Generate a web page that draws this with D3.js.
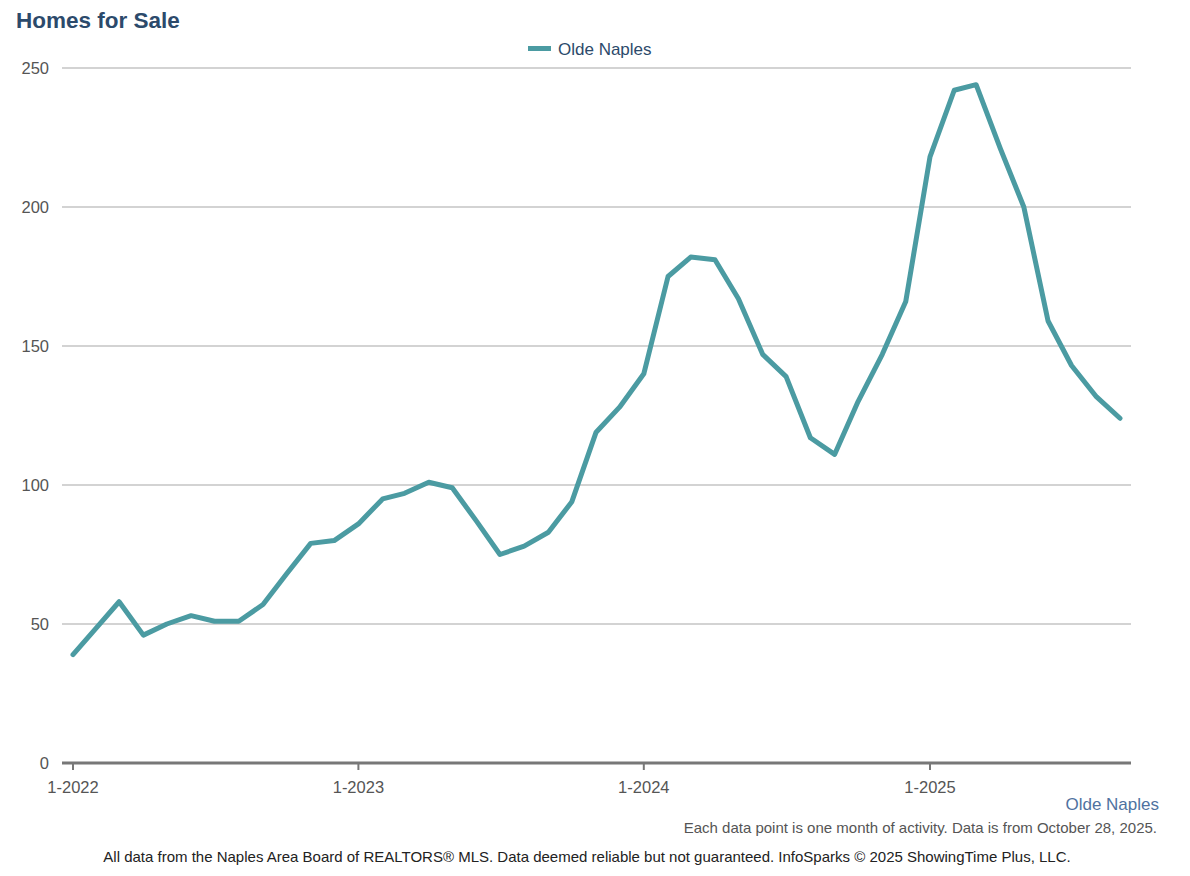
<!DOCTYPE html>
<html lang="en">
<head>
  <meta charset="UTF-8">
  <title>Homes for Sale</title>
  <style type="text/css">
    body {
      margin: 0;
      background: #fff;
      font-family: "Liberation Sans", Arial, Helvetica, sans-serif;
    }
    .grid line { stroke: #c4c4c4; stroke-width: 1.5px; }
    .axis text { fill: #555; font-size: 16.5px; }
  </style>
  <script src="https://cdn.jsdelivr.net/npm/d3@7"></script>
</head>
<body>
  <div class="main"></div>
  <script>
    // monthly values, 1-2022 .. 9-2025
    var startMonth = new Date(2022, 0, 1);
    var values = [39, 49, 58, 46, 50, 53, 51, 51, 57, 68, 79, 80,
                  86, 95, 97, 101, 99, 87, 75, 78, 83, 94, 119, 128,
                  140, 175, 182, 181, 167, 147, 139, 117, 111, 130, 147, 166,
                  218, 242, 244, 221, 200, 159, 143, 132, 124];
    var yTicks = [0, 50, 100, 150, 200, 250];
    var xTicks = ["1-2022", "1-2023", "1-2024", "1-2025"];
    var seriesName = "Olde Naples";

    var data = values.map(function(v, i) {
      return { date: d3.timeMonth.offset(startMonth, i), value: v };
    });

    var W = 1190, H = 876;
    var svg = d3.select(".main").append("svg")
        .attr("width", W)
        .attr("height", H);

    // plot box
    var plot = { left: 62, right: 1131, top: 68, bottom: 763 };

    var xScale = d3.scaleTime()
        .domain([startMonth, data[data.length - 1].date])
        .range([73, 1120]);
    var yScale = d3.scaleLinear().domain([0, 250]).range([plot.bottom, plot.top]);

    // gridlines
    svg.append("g").attr("class", "grid")
      .selectAll("line").data(yTicks.slice(1)).enter().append("line")
        .attr("x1", plot.left).attr("x2", plot.right)
        .attr("y1", function(d) { return yScale(d); })
        .attr("y2", function(d) { return yScale(d); });

    // y labels
    var yAxis = svg.append("g").attr("class", "axis");
    yAxis.selectAll("text").data(yTicks).enter().append("text")
        .attr("x", 49)
        .attr("y", function(d) { return yScale(d); })
        .attr("dy", "0.35em")
        .attr("text-anchor", "end")
        .text(function(d) { return d; });

    // x axis line + ticks
    var xAxis = svg.append("g").attr("class", "axis");
    xAxis.append("line")
        .attr("x1", plot.left).attr("x2", plot.right)
        .attr("y1", plot.bottom).attr("y2", plot.bottom)
        .attr("stroke", "#777").attr("stroke-width", 3);
    var tickDates = xTicks.map(function(t) {
      var p = t.split("-");
      return new Date(+p[1], +p[0] - 1, 1);
    });
    xAxis.selectAll("line.tick").data(tickDates).enter().append("line")
        .attr("class", "tick")
        .attr("x1", function(d) { return xScale(d); })
        .attr("x2", function(d) { return xScale(d); })
        .attr("y1", plot.bottom).attr("y2", plot.bottom + 7)
        .attr("stroke", "#777").attr("stroke-width", 2);
    xAxis.selectAll("text").data(xTicks).enter().append("text")
        .attr("x", function(d, i) { return xScale(tickDates[i]); })
        .attr("y", 793)
        .attr("text-anchor", "middle")
        .text(function(d) { return d; });

    // the line
    var line = d3.line()
        .x(function(d) { return xScale(d.date); })
        .y(function(d) { return yScale(d.value); });
    svg.append("path")
        .datum(data)
        .attr("d", line)
        .attr("fill", "none")
        .attr("stroke", "#4b9ba2")
        .attr("stroke-width", 5)
        .attr("stroke-linejoin", "round")
        .attr("stroke-linecap", "round");

    // title
    svg.append("text")
        .attr("x", 16).attr("y", 28)
        .attr("fill", "#2c4a6b")
        .attr("font-size", "22.5px")
        .attr("font-weight", "bold")
        .text("Homes for Sale");

    // legend
    svg.append("line")
        .attr("x1", 528).attr("x2", 551)
        .attr("y1", 48.5).attr("y2", 48.5)
        .attr("stroke", "#4b9ba2").attr("stroke-width", 5);
    svg.append("text")
        .attr("x", 558).attr("y", 55)
        .attr("fill", "#2c4a6b")
        .attr("font-size", "17px")
        .text(seriesName);

    // footer texts
    svg.append("text")
        .attr("x", 1159).attr("y", 810)
        .attr("text-anchor", "end")
        .attr("fill", "#4f72a0")
        .attr("font-size", "17px")
        .text(seriesName);
    svg.append("text")
        .attr("x", 1157).attr("y", 833)
        .attr("text-anchor", "end")
        .attr("fill", "#555")
        .attr("font-size", "15px")
        .text("Each data point is one month of activity. Data is from October 28, 2025.");
    svg.append("text")
        .attr("x", 587).attr("y", 862)
        .attr("text-anchor", "middle")
        .attr("fill", "#222")
        .attr("font-size", "15px")
        .text("All data from the Naples Area Board of REALTORS\u00ae MLS. Data deemed reliable but not guaranteed. InfoSparks \u00a9 2025 ShowingTime Plus, LLC.");
  </script>
</body>
</html>
